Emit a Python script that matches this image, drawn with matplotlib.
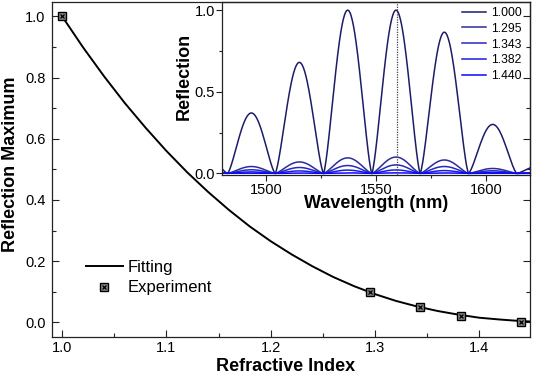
import numpy as np
import matplotlib
matplotlib.use('Agg')
import matplotlib.pyplot as plt
from matplotlib.ticker import MultipleLocator, FormatStrFormatter

plt.rcParams['font.family'] = ['Liberation Sans', 'DejaVu Sans']

# ---------------- main panel data ----------------
fit_index = [1.00, 1.02, 1.04, 1.06, 1.08, 1.10, 1.12, 1.14, 1.16, 1.18, 1.20,
             1.22, 1.24, 1.26, 1.28, 1.30, 1.32, 1.34, 1.36, 1.38, 1.40, 1.42,
             1.44, 1.45]
fit_reflection = [1.000, 0.899, 0.805, 0.717, 0.636, 0.560, 0.490, 0.426,
                  0.367, 0.313, 0.265, 0.222, 0.183, 0.148, 0.118, 0.092,
                  0.070, 0.052, 0.037, 0.025, 0.015, 0.009, 0.004, 0.0025]
exp_index = [1.000, 1.295, 1.343, 1.382, 1.440]
exp_reflection = [1.000, 0.100, 0.049, 0.020, 0.002]

# ---------------- inset data ----------------
lobe_zeros = [1460.5, 1482.3, 1504.0, 1526.0, 1548.0, 1570.0, 1592.0, 1614.0, 1636.0]
series_labels = ['1.000', '1.295', '1.343', '1.382', '1.440']
peaks_1000 = [0.12, 0.37, 0.68, 1.00, 1.00, 0.865, 0.30, 0.05]
peaks_1295 = [0.012, 0.042, 0.070, 0.095, 0.100, 0.082, 0.030, 0.006]
peaks_1343 = [0.006, 0.022, 0.036, 0.048, 0.052, 0.042, 0.016, 0.003]
peaks_1382 = [0.003, 0.009, 0.015, 0.020, 0.021, 0.017, 0.006, 0.001]
peaks_1440 = [0.0004, 0.0012, 0.002, 0.003, 0.003, 0.0025, 0.001, 0.0002]
series_peaks = [peaks_1000, peaks_1295, peaks_1343, peaks_1382, peaks_1440]
series_colors = ['#1c1c68', '#2c2c9c', '#2828c0', '#1c1ce0', '#0808ff']
bragg_wavelength = 1559.3

fig = plt.figure(figsize=(5.33, 3.77), dpi=100)
ax = fig.add_axes([0.097, 0.1061, 0.8983, 0.8886])

fit_line, = ax.plot(fit_index, fit_reflection, color='black', lw=1.4, zorder=2)
sq, = ax.plot(exp_index, exp_reflection, ls='none', marker='s', ms=5.3,
              mfc='#8a8a8a', mec='black', mew=1.0, zorder=3)
xx, = ax.plot(exp_index, exp_reflection, ls='none', marker='x', ms=3.4,
              mec='black', mew=0.9, zorder=4)

ax.set_xlim(0.990, 1.449)
ax.set_ylim(-0.048, 1.047)
ax.xaxis.set_major_locator(MultipleLocator(0.1))
ax.xaxis.set_minor_locator(MultipleLocator(0.05))
ax.yaxis.set_major_locator(MultipleLocator(0.2))
ax.yaxis.set_minor_locator(MultipleLocator(0.1))
ax.xaxis.set_major_formatter(FormatStrFormatter('%.1f'))
ax.yaxis.set_major_formatter(FormatStrFormatter('%.1f'))
ax.tick_params(which='both', direction='in', right=True, top=False,
               labelsize=10.5, color='#222222', width=0.8)
ax.tick_params(which='major', length=5, pad=4.5)
ax.tick_params(which='minor', length=3)
ax.tick_params(axis='x', which='major', pad=3)
for s in ax.spines.values():
    s.set_linewidth(0.9)
    s.set_color('#222222')

ax.set_xlabel('Refractive Index', fontsize=13, fontweight='bold')
ax.set_ylabel('Reflection Maximum', fontsize=13, fontweight='bold')
ax.xaxis.set_label_coords(0.489, -0.064)
ax.yaxis.set_label_coords(-0.069, 0.515)

leg = ax.legend([fit_line, (sq, xx)], ['Fitting', 'Experiment'],
                loc='upper left', bbox_to_anchor=(0.065, 0.240),
                frameon=False, fontsize=12, handlelength=2.2,
                handletextpad=0.3, labelspacing=0.33, borderpad=0.2,
                borderaxespad=0)

# ---------------- inset ----------------
ins = fig.add_axes([0.4174, 0.5358, 0.5770, 0.4589])
ins.patch.set_alpha(0)
for label, peaks, col in zip(series_labels, series_peaks, series_colors):
    wl_all, r_all = [], []
    for z0, z1, h in zip(lobe_zeros[:-1], lobe_zeros[1:], peaks):
        wl = np.linspace(z0, z1, 80)
        r = h * np.abs(np.sin(np.pi * (wl - z0) / (z1 - z0))) ** 1.4
        wl_all.append(wl)
        r_all.append(r)
    ins.plot(np.concatenate(wl_all), np.concatenate(r_all), color=col,
             lw=1.1, label=label)
ins.axvline(bragg_wavelength, color='#444444', lw=0.9, ls=(0, (1, 1)))

ins.set_xlim(1480, 1620)
ins.set_ylim(-0.01, 1.05)
ins.xaxis.set_major_locator(MultipleLocator(50))
ins.xaxis.set_minor_locator(MultipleLocator(25))
ins.yaxis.set_major_locator(MultipleLocator(0.5))
ins.yaxis.set_minor_locator(MultipleLocator(0.25))
ins.yaxis.set_major_formatter(FormatStrFormatter('%.1f'))
ins.tick_params(which='both', direction='out', labelsize=10.5,
                color='#222222', width=0.8)
ins.tick_params(which='major', length=4, pad=1.5)
ins.tick_params(which='minor', length=2.5)
for s in ins.spines.values():
    s.set_linewidth(0.9)
    s.set_color('#222222')
ins.set_xlabel('Wavelength (nm)', fontsize=13, fontweight='bold')
ins.set_ylabel('Reflection', fontsize=13, fontweight='bold')
ins.xaxis.set_label_coords(0.5, -0.118)
ins.yaxis.set_label_coords(-0.098, 0.572)
ins.legend(loc='upper right', bbox_to_anchor=(0.972, 0.972), frameon=False,
           fontsize=8.7, handlelength=2.0, handletextpad=0.35,
           labelspacing=0.32, borderpad=0, borderaxespad=0)

fig.savefig('out.png', dpi=100)
